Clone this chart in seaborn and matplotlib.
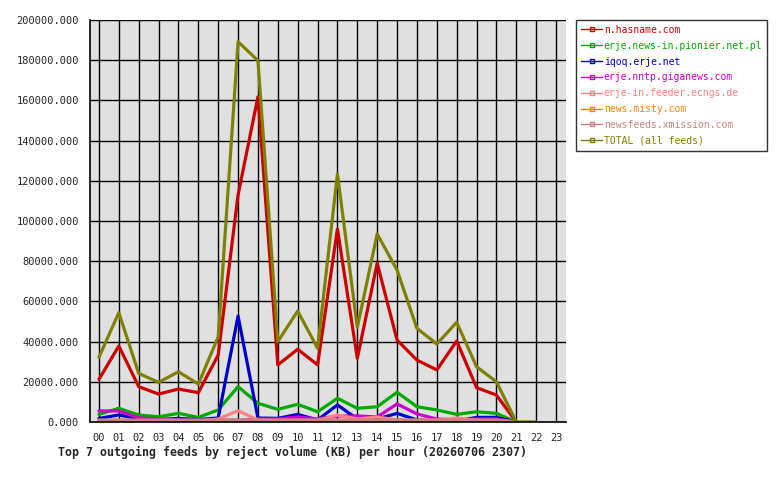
import matplotlib
matplotlib.use("Agg")
import matplotlib.pyplot as plt
import numpy as np
import pandas as pd
import seaborn as sns
from matplotlib.lines import Line2D
from matplotlib.ticker import FormatStrFormatter

HOURS = list(range(24))
HOUR_LABELS = [f"{h:02d}" for h in HOURS]
nan = np.nan

FEEDS = [
    "n.hasname.com",
    "erje.news-in.pionier.net.pl",
    "iqoq.erje.net",
    "erje.nntp.giganews.com",
    "erje-in.feeder.ecngs.de",
    "news.misty.com",
    "newsfeeds.xmission.com",
    "TOTAL (all feeds)",
]
COLORS = ["#cc0000", "#00aa00", "#0000cc", "#cc00cc", "#ff8080", "#ff8000", "#cc8080", "#808000"]

hasname = [21200, 37800, 17600, 13900, 16400, 14600, 33300, 113000, 161800, 28400, 36200, 28400,
           96000, 31700, 79000, 40800, 30800, 25900, 40300, 17100, 13400, 0, nan, nan]
pionier = [3800, 6800, 3500, 2600, 4300, 2300, 6000, 17600, 9300, 6300, 8800, 5100,
           11800, 6800, 7600, 14800, 7600, 6000, 3800, 5100, 4300, 0, nan, nan]
iqoq = [1800, 3500, 1500, 1200, 1800, 1200, 2000, 52700, 2000, 1800, 3800, 1000,
        8500, 1500, 1500, 4300, 1000, 500, 500, 2300, 2300, 0, nan, nan]
giganews = [5500, 5500, 2000, 1500, 1000, 800, 1000, 800, 1500, 1500, 2500, 1500,
            3000, 3000, 2500, 9000, 4000, 1500, 1000, 1500, 1500, 0, nan, nan]
ecngs = [500, 500, 500, 500, 500, 500, 1500, 5600, 1000, 800, 800, 800,
         3500, 1500, 2500, 1000, 800, 800, 2000, 800, 800, 0, nan, nan]
misty = [300, 300, 300, 300, 300, 300, 300, 300, 300, 300, 300, 300,
         300, 300, 300, 300, 300, 1000, 300, 300, 300, 0, nan, nan]
xmission = [1000, 1000, 1000, 1000, 1000, 1000, 1000, 1000, 1000, 1000, 1000, 1000,
            1000, 1000, 1000, 1000, 1000, 1000, 1000, 1000, 1000, 0, nan, nan]
total = [32200, 54400, 24200, 19700, 25000, 18900, 42300, 189200, 179800, 40000, 55200, 36700,
         123400, 47100, 93500, 75600, 46600, 38800, 49600, 27500, 20000, 0, 0, nan]

SERIES = [hasname, pionier, iqoq, giganews, ecngs, misty, xmission, total]

sns.set_style("white")
plt.rcParams["font.family"] = ["DejaVu Sans Mono"]

frames = []
for name, values in zip(FEEDS, SERIES):
    frames.append(pd.DataFrame({"hour": HOURS, "kb": values, "feed": name}))
data = pd.concat(frames, ignore_index=True).dropna()

fig = plt.figure(figsize=(7.8, 4.8), dpi=100)
ax = fig.add_axes([90 / 780, 58 / 480, 476 / 780, 402 / 480])
ax.set_facecolor("#e0e0e0")

sns.lineplot(data=data, x="hour", y="kb", hue="feed", hue_order=FEEDS,
             palette=COLORS, linewidth=2.3, legend=False, ax=ax, estimator=None)

ax.set_xlim(-0.45, 23.5)
ax.set_ylim(0, 200000)
ax.set_xticks(HOURS)
ax.set_xticklabels(HOUR_LABELS)
ax.set_yticks(np.arange(0, 200001, 20000))
ax.yaxis.set_major_formatter(FormatStrFormatter("%.3f"))
ax.grid(True, color="black", linewidth=1)
ax.set_axisbelow(True)
ax.tick_params(axis="both", length=5, width=1, color="black", labelsize=7.5, pad=3)
for side in ["top", "right"]:
    ax.spines[side].set_visible(False)
for side in ["left", "bottom"]:
    ax.spines[side].set_color("black")
    ax.spines[side].set_linewidth(1.2)
ax.set_xlabel("")
ax.set_ylabel("")

fig.text(292 / 780, 1 - 452 / 480, "Top 7 outgoing feeds by reject volume (KB) per hour (20260706 2307)",
         ha="center", va="center", fontsize=8.4, fontweight="bold")

handles = [Line2D([], [], color=c, lw=1, marker="s", ms=3, mfc="none", mew=1) for c in COLORS]
leg = fig.legend(handles, FEEDS, loc="upper left", bbox_to_anchor=(576 / 780, 1 - 20 / 480),
                 borderaxespad=0, fontsize=7.0, labelcolor=COLORS, handlelength=2.2,
                 handletextpad=0.15, labelspacing=0.6, borderpad=0.5, fancybox=False,
                 frameon=True, edgecolor="black")
leg.get_frame().set_linewidth(1.0)

fig.savefig("out.png", dpi=100)
